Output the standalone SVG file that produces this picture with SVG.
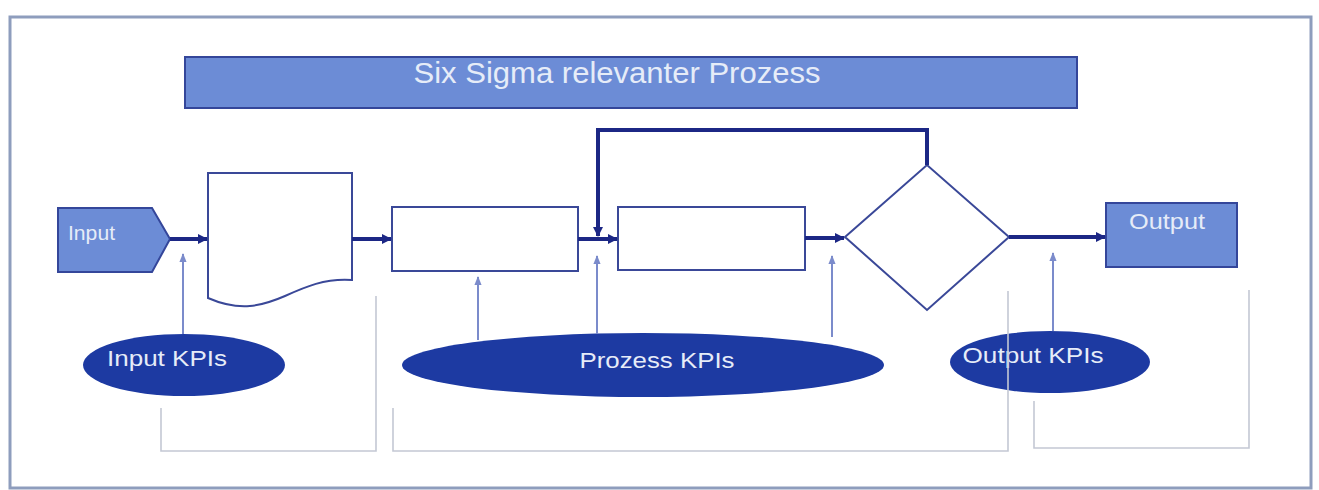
<svg xmlns="http://www.w3.org/2000/svg" width="1319" height="490" viewBox="0 0 1319 490">
<defs>
<style>
.lbl{font-family:"Liberation Sans",Arial,sans-serif;fill:#e6ecf8}
.shape{fill:#ffffff;stroke:#3a4898;stroke-width:2}
.blue{fill:#6c8cd6;stroke:#34469a;stroke-width:2}
.kpi{fill:#1d3aa2}
.thick{fill:none;stroke:#1c2785;stroke-width:4}
.thin{fill:none;stroke:#7b8bcb;stroke-width:2}
.brk{fill:none;stroke:#c4c8d4;stroke-width:1.6}
</style>
<marker id="ah" viewBox="0 0 10 10" refX="9" refY="5" markerWidth="10" markerHeight="10" markerUnits="userSpaceOnUse" orient="auto">
<path d="M0,0 L10,5 L0,10 z" fill="#1c2785"/>
</marker>
<marker id="ahs" viewBox="0 0 10 10" refX="9" refY="5" markerWidth="9" markerHeight="9" markerUnits="userSpaceOnUse" orient="auto">
<path d="M0,1 L10,5 L0,9 z" fill="#7b8bcb"/>
</marker>
</defs>
<rect x="0" y="0" width="1319" height="490" fill="#ffffff"/>
<rect x="10" y="17" width="1301" height="471" fill="none" stroke="#8e9dbd" stroke-width="3"/>

<g id="title">
<rect class="blue" x="185" y="57" width="892" height="51"/>
<text class="lbl" x="617" y="83" font-size="29" text-anchor="middle" textLength="407" lengthAdjust="spacingAndGlyphs">Six Sigma relevanter Prozess</text>
</g>

<g id="input">
<path class="blue" d="M58,208 H152 L170,239 L152,272 H58 Z"/>
<text class="lbl" x="68" y="240" font-size="20" textLength="47" lengthAdjust="spacingAndGlyphs">Input</text>
</g>

<g id="document">
<path class="shape" d="M208,173 H352 V280 C325,278 305,287 285,296 C262,306 240,312 208,298 Z"/>
</g>

<g id="process1">
<rect class="shape" x="392" y="207" width="186" height="64"/>
</g>

<g id="process2">
<rect class="shape" x="618" y="207" width="187" height="63"/>
</g>

<g id="decision">
<path class="shape" d="M845,237 L927,165 L1009,237 L927,310 Z"/>
</g>

<g id="output">
<rect class="blue" x="1106" y="203" width="131" height="64"/>
<text class="lbl" x="1167" y="229" font-size="22" text-anchor="middle" textLength="76" lengthAdjust="spacingAndGlyphs">Output</text>
</g>

<g id="input-kpis">
<ellipse class="kpi" cx="184" cy="365" rx="101" ry="31"/>
<text class="lbl" x="167" y="366" font-size="22" text-anchor="middle" textLength="120" lengthAdjust="spacingAndGlyphs">Input KPIs</text>
</g>

<g id="prozess-kpis">
<ellipse class="kpi" cx="643" cy="365" rx="241" ry="32"/>
<text class="lbl" x="657" y="368" font-size="22" text-anchor="middle" textLength="155" lengthAdjust="spacingAndGlyphs">Prozess KPIs</text>
</g>

<g id="output-kpis">
<ellipse class="kpi" cx="1050" cy="362" rx="100" ry="31"/>
<text class="lbl" x="1033" y="363" font-size="22" text-anchor="middle" textLength="141" lengthAdjust="spacingAndGlyphs">Output KPIs</text>
</g>

<g id="connectors">
<line class="thick" x1="170" y1="239" x2="207" y2="239" marker-end="url(#ah)"/>
<line class="thick" x1="352" y1="239" x2="391" y2="239" marker-end="url(#ah)"/>
<line class="thick" x1="578" y1="239" x2="617" y2="239" marker-end="url(#ah)"/>
<line class="thick" x1="805" y1="238" x2="844" y2="238" marker-end="url(#ah)"/>
<line class="thick" x1="1009" y1="237" x2="1105" y2="237" marker-end="url(#ah)"/>
<path class="thick" d="M927,165 V130 H598 V236" marker-end="url(#ah)"/>

<line class="thin" x1="183" y1="334" x2="183" y2="254" marker-end="url(#ahs)"/>
<line class="thin" x1="478" y1="340" x2="478" y2="277" marker-end="url(#ahs)"/>
<line class="thin" x1="597" y1="334" x2="597" y2="256" marker-end="url(#ahs)"/>
<line class="thin" x1="832" y1="337" x2="832" y2="256" marker-end="url(#ahs)"/>
<line class="thin" x1="1053" y1="331" x2="1053" y2="253" marker-end="url(#ahs)"/>

<path class="brk" d="M161,408 V451 H376 V296"/>
<path class="brk" d="M393,408 V451 H1008 V291"/>
<path class="brk" d="M1034,401 V448 H1249 V290"/>
</g>
</svg>
